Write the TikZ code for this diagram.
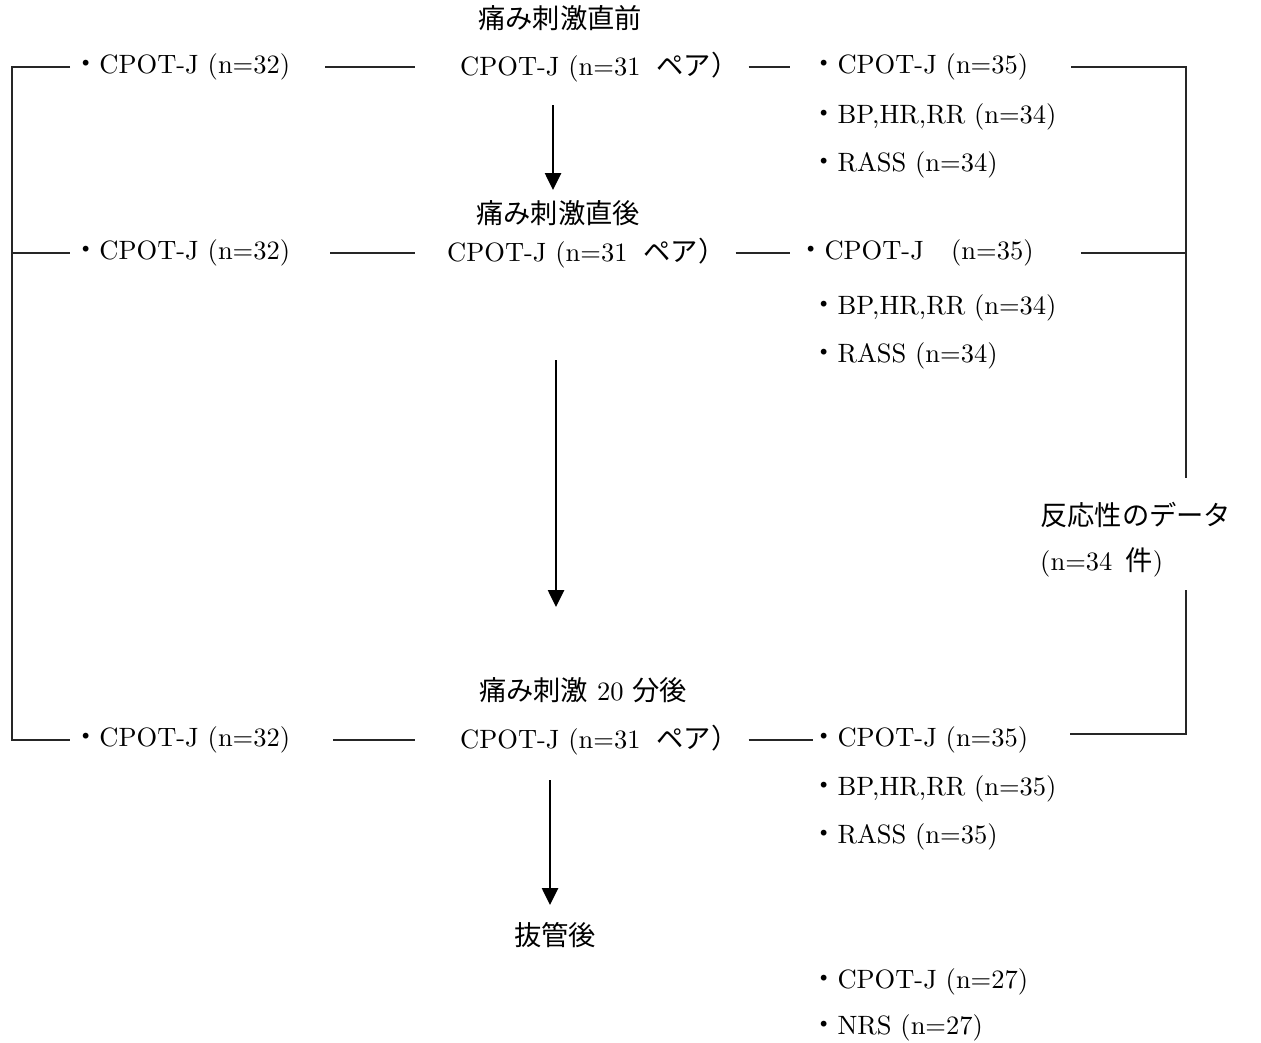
\documentclass[tikz,border=0pt]{standalone}
\usepackage{fontspec}
\setmainfont{lmroman10-regular}[Extension=.otf]
\newfontfamily\jp{Noto Sans CJK JP}[Scale=1.03]
\usetikzlibrary{arrows.meta}
\newcommand\dotb{{\jp ・}}
\begin{document}
\begin{tikzpicture}[x=1pt,y=-1pt,
  txt/.style={inner sep=0pt, font=\fontsize{26.5}{31}\selectfont, anchor=west},
  ctr/.style={inner sep=0pt, font=\fontsize{26.5}{31}\selectfont},
  ln/.style={line width=1.1pt, draw=black!85},
  arr/.style={line width=2.6pt, -{Triangle[length=17pt,width=16pt]}}]
\useasboundingbox (0,0) rectangle (1261,1042);

% headings
\node[ctr] (h1) at (560,18) {\jp 痛み刺激直前};
\node[ctr] (h2) at (558,213) {\jp 痛み刺激直後};
\node[ctr] (h3) at (583,690) {{\jp 痛み刺激} 20 {\jp 分後}};
\node[ctr] (h4) at (555,935) {\jp 抜管後};

% row 1
\node[txt] (l1) at (72,67) {\dotb CPOT-J (n=32)};
\node[txt] (c1) at (460,67) {CPOT-J (n=31\hspace{0.6em}{\jp ペア）}};
\node[txt] (r1a) at (810,67) {\dotb CPOT-J (n=35)};
\node[txt] (r1b) at (810,117) {\dotb BP,HR,RR (n=34)};
\node[txt] (r1c) at (810,165) {\dotb RASS (n=34)};

% row 2
\node[txt] (l2) at (72,253) {\dotb CPOT-J (n=32)};
\node[txt] (c2) at (447,253) {CPOT-J (n=31\hspace{0.6em}{\jp ペア）}};
\node[txt] (r2a) at (797,253) {\dotb CPOT-J{\jp 　}(n=35)};
\node[txt] (r2b) at (810,308) {\dotb BP,HR,RR (n=34)};
\node[txt] (r2c) at (810,356) {\dotb RASS (n=34)};

% row 3
\node[txt] (l3) at (72,740) {\dotb CPOT-J (n=32)};
\node[txt] (c3) at (460,740) {CPOT-J (n=31\hspace{0.6em}{\jp ペア）}};
\node[txt] (r3a) at (810,740) {\dotb CPOT-J (n=35)};
\node[txt] (r3b) at (810,789) {\dotb BP,HR,RR (n=35)};
\node[txt] (r3c) at (810,837) {\dotb RASS (n=35)};

% after extubation
\node[txt] (r4a) at (810,982) {\dotb CPOT-J (n=27)};
\node[txt] (r4b) at (810,1028) {\dotb NRS (n=27)};

% side label
\node[txt] (s1) at (1040,515) {\jp 反応性のデータ};
\node[txt] (s2) at (1040,562) {(n=34\hspace{0.5em}{\jp 件})};

% left bracket
\coordinate (L1) at (12,67);
\coordinate (L2) at (12,253);
\coordinate (L3) at (12,740);
\draw[ln] ([xshift=-2pt]l1.west) -- (L1) -- (L3) -- ([xshift=-2pt]l3.west);
\draw[ln] (L2) -- ([xshift=-2pt]l2.west);

% left to centre
\draw[ln] ([xshift=35pt]l1.east) -- ([xshift=-45pt]c1.west);
\draw[ln] ([xshift=40pt]l2.east) -- ([xshift=-32pt]c2.west);
\draw[ln] ([xshift=43pt]l3.east) -- ([xshift=-45pt]c3.west);

% centre to right
\draw[ln] ([xshift=10pt]c1.east) -- ([xshift=-20pt]r1a.west);
\draw[ln] ([xshift=10pt]c2.east) -- ([xshift=-7pt]r2a.west);
\draw[ln] ([xshift=10pt]c3.east) -- ([xshift=3pt]r3a.west);

% right bracket
\coordinate (R1) at (1186,67);
\coordinate (R2) at (1186,253);
\coordinate (R3) at (1186,734);
\coordinate (G1) at (1186,478);
\coordinate (G2) at (1186,590);
\draw[ln] ([xshift=43pt]r1a.east) -- (R1) -- (G1);
\draw[ln] ([xshift=47pt]r2a.east) -- (R2);
\draw[ln] (G2) -- (R3) -- ([xshift=-116pt]R3);

% arrows
\coordinate (A1s) at (553,105);
\coordinate (A1e) at (553,190);
\coordinate (A2s) at (556,360);
\coordinate (A2e) at (556,607);
\coordinate (A3s) at (550,780);
\coordinate (A3e) at (550,905);
\draw[arr] (A1s) -- (A1e);
\draw[arr] (A2s) -- (A2e);
\draw[arr] (A3s) -- (A3e);
\end{tikzpicture}
\end{document}
